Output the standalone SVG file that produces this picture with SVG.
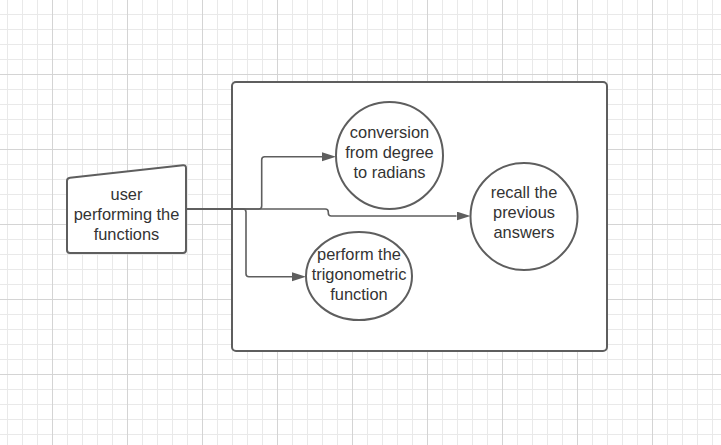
<svg xmlns="http://www.w3.org/2000/svg" width="721" height="445" viewBox="0 0 721 445">
  <defs>
    <pattern id="minor" x="7" y="14" width="15" height="15" patternUnits="userSpaceOnUse">
      <path d="M0.5 0V15M0 0.5H15" stroke="#e9e9e9" stroke-width="1" fill="none"/>
    </pattern>
    <pattern id="major" x="52" y="74" width="75" height="75" patternUnits="userSpaceOnUse">
      <path d="M0.5 0V75M0 0.5H75" stroke="#d4d4d4" stroke-width="1" fill="none"/>
    </pattern>
    <marker id="arrow" markerUnits="userSpaceOnUse" markerWidth="14" markerHeight="10" refX="0" refY="4.5" orient="auto">
      <path d="M0 0L14 4.5L0 9Z" fill="#5e5e5e"/>
    </marker>
  </defs>
  <style>
    .shape { fill: #ffffff; stroke: #5e5e5e; stroke-width: 2; }
    .conn { fill: none; stroke: #5e5e5e; stroke-width: 1.6; }
    .label { font-family: "Liberation Sans", Arial, sans-serif; font-size: 16.4px; fill: #333333; text-anchor: middle; }
  </style>
  <rect x="0" y="0" width="721" height="445" fill="#ffffff"/>
  <rect x="0" y="0" width="721" height="445" fill="url(#minor)"/>
  <rect x="0" y="0" width="721" height="445" fill="url(#major)"/>

  <g id="system-boundary">
    <rect class="shape" x="232" y="82" width="375" height="269" rx="4" ry="4"/>
  </g>

  <g id="user">
    <path class="shape" d="M67 181Q67 178 70 177.7L183 165.3Q186 165 186 168L186 250Q186 253 183 253L70 253Q67 253 67 250Z"/>
    <text class="label" x="126.5" y="200">user</text>
    <text class="label" x="126.5" y="220">performing the</text>
    <text class="label" x="126.5" y="240">functions</text>
  </g>

  <g id="conversion">
    <circle class="shape" cx="389.5" cy="155.5" r="53.5"/>
    <text class="label" x="389.5" y="138.3">conversion</text>
    <text class="label" x="389.5" y="158.3">from degree</text>
    <text class="label" x="389.5" y="178.3">to radians</text>
  </g>

  <g id="recall">
    <circle class="shape" cx="524" cy="216.5" r="53.5"/>
    <text class="label" x="524" y="198.3">recall the</text>
    <text class="label" x="524" y="218.3">previous</text>
    <text class="label" x="524" y="238.3">answers</text>
  </g>

  <g id="perform">
    <ellipse class="shape" cx="359" cy="276" rx="53" ry="44"/>
    <text class="label" x="359" y="259.7">perform the</text>
    <text class="label" x="359" y="279.7">trigonometric</text>
    <text class="label" x="359" y="299.7">function</text>
  </g>

  <g id="connectors">
    <path class="conn" marker-end="url(#arrow)" d="M186 209H258.7Q261.7 209 261.7 206V159.7Q261.7 156.7 264.7 156.7H322"/>
    <path class="conn" marker-end="url(#arrow)" d="M186 209H325.3Q328.3 209 328.3 212V213Q328.3 216 331.3 216H456.5"/>
    <path class="conn" marker-end="url(#arrow)" d="M186 209H243Q246 209 246 212V273.7Q246 276.7 249 276.7H292"/>
  </g>
</svg>
